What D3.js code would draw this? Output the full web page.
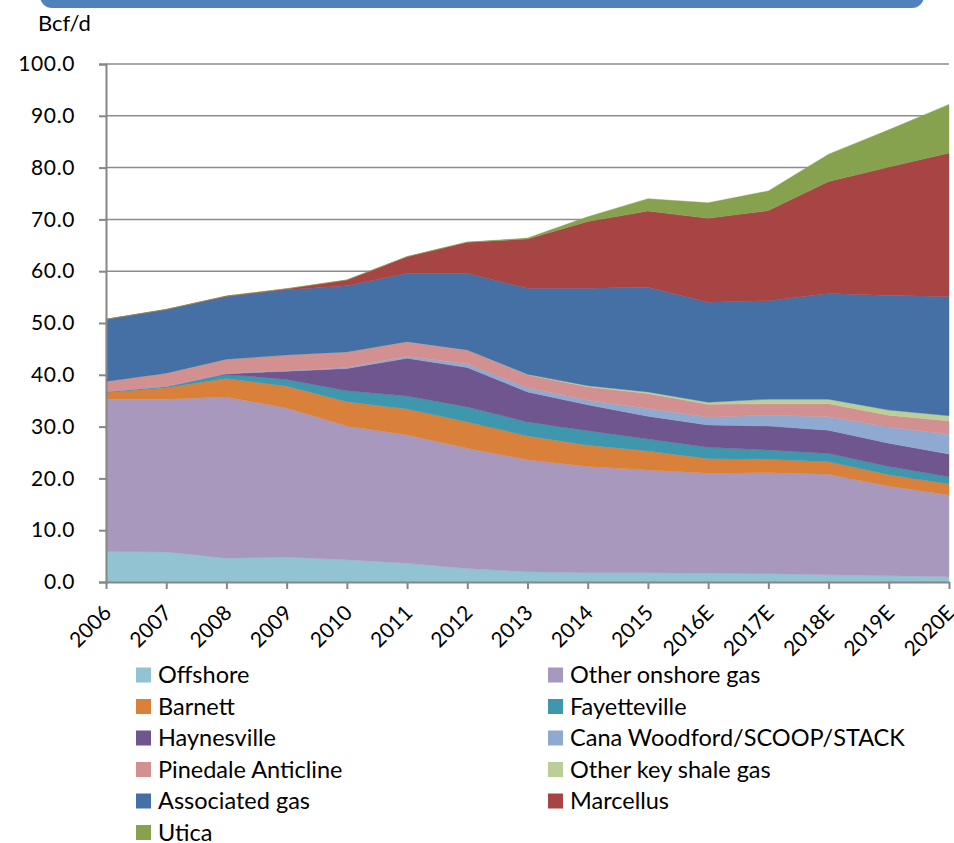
<!DOCTYPE html>
<html>
<head>
<meta charset="utf-8">
<script src="https://cdn.jsdelivr.net/npm/d3@7"></script>
<style>
  body { margin: 0; background: #fff; }
  text { font-family: Lato, "Open Sans", sans-serif; fill: #000; }
</style>
</head>
<body>
<div id="chart"></div>
<script>
const width = 954;
const height = 843;

// years on the x axis
const years = ["2006", "2007", "2008", "2009", "2010", "2011", "2012", "2013",
  "2014", "2015", "2016E", "2017E", "2018E", "2019E", "2020E"];

// Bcf/d
const offshore    = [5.9, 5.8, 4.6, 4.8, 4.3, 3.6, 2.6, 2.0, 1.8, 1.8, 1.7, 1.6, 1.4, 1.2, 1.0];
const otherOnshore = [29.4, 29.5, 31.1, 28.8, 25.8, 24.8, 23.2, 21.6, 20.5, 19.8, 19.3, 19.5, 19.4, 17.3, 15.8];
const barnett     = [1.3, 2.2, 3.6, 4.2, 4.7, 5.0, 5.1, 4.6, 4.1, 3.7, 2.8, 2.6, 2.4, 2.2, 2.1];
const fayetteville = [0.1, 0.2, 0.8, 1.3, 2.1, 2.5, 2.9, 2.7, 2.8, 2.3, 2.2, 1.8, 1.6, 1.6, 1.4];
const haynesville = [0.0, 0.0, 0.1, 1.6, 4.3, 7.3, 7.6, 5.8, 5.0, 4.4, 4.3, 4.6, 4.5, 4.5, 4.4];
const canaWoodford = [0.1, 0.1, 0.1, 0.1, 0.2, 0.4, 0.7, 0.8, 0.9, 1.5, 1.5, 2.1, 2.6, 3.1, 3.8];
const pinedale    = [1.9, 2.5, 2.7, 3.0, 3.0, 2.8, 2.7, 2.5, 2.6, 2.9, 2.5, 2.2, 2.5, 2.3, 2.6];
const otherShale  = [0.0, 0.0, 0.0, 0.0, 0.0, 0.0, 0.0, 0.1, 0.2, 0.3, 0.4, 0.9, 0.9, 1.0, 1.0];
const associated  = [12.0, 12.3, 12.1, 12.6, 12.8, 13.2, 14.8, 16.6, 18.8, 20.2, 19.3, 19.0, 20.4, 22.1, 23.0];
const marcellus   = [0.0, 0.0, 0.1, 0.2, 1.1, 3.2, 6.0, 9.5, 12.9, 14.7, 16.2, 17.4, 21.6, 24.8, 27.7];
const utica       = [0.0, 0.0, 0.0, 0.0, 0.0, 0.0, 0.0, 0.2, 0.9, 2.4, 3.0, 3.8, 5.3, 7.2, 9.4];

const seriesNames = ["Offshore", "Other onshore gas", "Barnett", "Fayetteville", "Haynesville",
  "Cana Woodford/SCOOP/STACK", "Pinedale Anticline", "Other key shale gas",
  "Associated gas", "Marcellus", "Utica"];
const seriesValues = [offshore, otherOnshore, barnett, fayetteville, haynesville,
  canaWoodford, pinedale, otherShale, associated, marcellus, utica];
const colors = ["#92c3d3", "#a898bd", "#d9803b", "#3f97ad", "#6f568e",
  "#8fa9d1", "#d39090", "#bacf98", "#4470a5", "#a64543", "#87a24e"];

const yTicks = [0, 10, 20, 30, 40, 50, 60, 70, 80, 90, 100];

// table for d3.stack
const table = years.map((y, i) => {
  const row = { year: y };
  seriesNames.forEach((n, j) => row[n] = seriesValues[j][i]);
  return row;
});

const margin = { top: 64, right: 5, bottom: 261, left: 106 };

const svg = d3.select("#chart").append("svg")
  .attr("width", width)
  .attr("height", height);

// title bar, only its bottom edge is visible
svg.append("rect")
  .attr("x", 40).attr("y", -20)
  .attr("width", 884).attr("height", 28)
  .attr("rx", 12)
  .attr("fill", "#4f81bd");

const x = d3.scalePoint()
  .domain(years)
  .range([margin.left, width - margin.right]);

const y = d3.scaleLinear()
  .domain([0, 100])
  .range([height - margin.bottom, margin.top]);

// gridlines
svg.append("g")
  .selectAll("line")
  .data(yTicks.filter(d => d > 0))
  .join("line")
  .attr("x1", margin.left).attr("x2", width - margin.right)
  .attr("y1", d => y(d)).attr("y2", d => y(d))
  .attr("stroke", "#8c8c8c")
  .attr("stroke-width", 1.5);

const stack = d3.stack().keys(seriesNames);
const layers = stack(table);

const area = d3.area()
  .x(d => x(d.data.year))
  .y0(d => y(d[0]))
  .y1(d => y(d[1]));

svg.append("g")
  .selectAll("path")
  .data(layers)
  .join("path")
  .attr("d", area)
  .attr("fill", (d, i) => colors[i])
  .attr("stroke", (d, i) => colors[i])
  .attr("stroke-width", 0.4);

// y axis
const yAxis = d3.axisLeft(y)
  .tickValues(yTicks)
  .tickFormat(d3.format(".1f"))
  .tickSize(7)
  .tickPadding(24);

const gy = svg.append("g")
  .attr("transform", `translate(${margin.left},0)`)
  .call(yAxis);
gy.select(".domain").attr("stroke", "#868686").attr("stroke-width", 2);
gy.selectAll(".tick line").attr("stroke", "#868686").attr("stroke-width", 2);
gy.selectAll(".tick text")
  .style("font-size", "21px")
  .style("font-family", "Lato, sans-serif")
  .style("letter-spacing", "0.6px")
  .attr("fill", "#000");

// x axis
const xAxis = d3.axisBottom(x).tickSize(7).tickSizeOuter(0);
const gx = svg.append("g")
  .attr("transform", `translate(0,${height - margin.bottom})`)
  .call(xAxis);
gx.select(".domain").attr("stroke", "#868686").attr("stroke-width", 2);
gx.selectAll(".tick line").attr("stroke", "#868686").attr("stroke-width", 2);
gx.selectAll(".tick text")
  .style("font-size", "21px")
  .style("font-family", "Lato, sans-serif")
  .attr("fill", "#000")
  .attr("text-anchor", "end")
  .attr("x", 0)
  .attr("y", 0)
  .attr("dy", "0.35em")
  .attr("transform", "translate(1,27) rotate(-45)");

// unit label
svg.append("text")
  .attr("x", 38).attr("y", 31)
  .style("font-size", "22px")
  .text("Bcf/d");

// legend, two columns
const legend = svg.append("g");
const legendItems = legend.selectAll("g")
  .data(seriesNames)
  .join("g")
  .attr("transform", (d, i) => {
    const col = i % 2;
    const row = Math.floor(i / 2);
    return `translate(${col ? 548 : 136},${675 + row * 31.5})`;
  });

legendItems.append("rect")
  .attr("x", 0).attr("y", -7.5)
  .attr("width", 15).attr("height", 15)
  .attr("fill", (d, i) => colors[i]);

legendItems.append("text")
  .attr("x", 22)
  .attr("dy", "0.36em")
  .style("font-size", "23.5px")
  .text(d => d);
</script>
</body>
</html>
